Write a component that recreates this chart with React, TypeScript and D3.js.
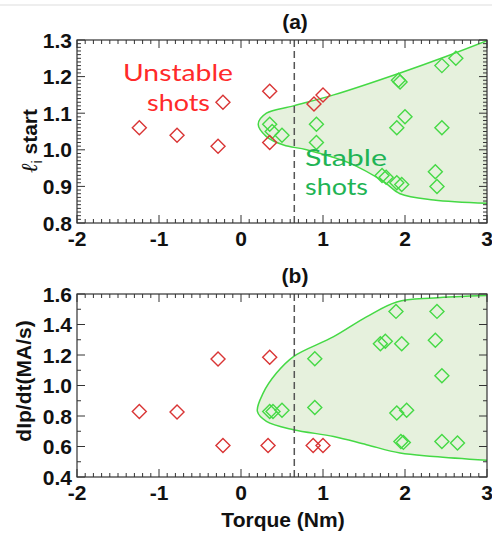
import React from "react";
import * as d3 from "d3";

// Panel (a): li start vs torque
const unstableA: [number, number][] = [
  [-1.24, 1.06], [-0.78, 1.04], [-0.28, 1.01], [-0.22, 1.13], [0.35, 1.16],
  [0.35, 1.02], [0.89, 1.125], [1.0, 1.15],
];
const stableA: [number, number][] = [
  [0.35, 1.07], [0.38, 1.05], [0.5, 1.04], [0.92, 1.07], [0.92, 1.02],
  [1.72, 0.93], [1.77, 0.925], [1.9, 0.91], [1.96, 0.905], [1.92, 1.19],
  [1.94, 1.185], [1.9, 1.06], [2.0, 1.09], [2.45, 1.23], [2.62, 1.25],
  [2.45, 1.06], [2.37, 0.94], [2.39, 0.9],
];
const boundaryA: [number, number][] = [
  [3.0, 1.298], [2.5, 1.255], [1.94, 1.21], [1.13, 1.15], [0.64, 1.12],
  [0.31, 1.1], [0.21, 1.07], [0.31, 1.036], [0.52, 1.013], [0.8, 1.0],
  [1.33, 0.963], [1.74, 0.913], [1.94, 0.88], [2.35, 0.863], [3.0, 0.854],
];

// Panel (b): dIp/dt vs torque
const unstableB: [number, number][] = [
  [-1.24, 0.83], [-0.78, 0.826], [-0.28, 1.174], [-0.22, 0.607], [0.35, 1.185],
  [0.33, 0.607], [0.88, 0.607], [1.0, 0.607],
];
const stableB: [number, number][] = [
  [0.35, 0.83], [0.39, 0.83], [0.5, 0.837], [0.9, 1.176], [0.9, 0.856],
  [1.7, 1.274], [1.76, 1.29], [1.89, 1.486], [1.96, 1.274], [1.9, 0.82],
  [2.02, 0.837], [1.95, 0.633], [1.98, 0.627], [2.39, 1.486], [2.37, 1.296],
  [2.45, 1.064], [2.45, 0.633], [2.64, 0.623],
];
const boundaryB: [number, number][] = [
  [3.0, 1.59], [2.35, 1.574], [1.9, 1.548], [1.53, 1.45], [1.13, 1.32],
  [0.64, 1.19], [0.43, 1.08], [0.27, 0.95], [0.2, 0.83], [0.31, 0.765],
  [0.64, 0.71], [1.13, 0.666], [1.53, 0.612], [1.94, 0.557], [2.35, 0.535],
  [3.0, 0.51],
];

const xTicks = [-2, -1, 0, 1, 2, 3];
const yTicksA = [0.8, 0.9, 1.0, 1.1, 1.2, 1.3];
const yTicksB = [0.4, 0.6, 0.8, 1.0, 1.2, 1.4, 1.6];
const threshold = 0.65;

const FONT = "'Liberation Sans', Arial, sans-serif";
const RED = "#d93535";
const GREEN = "#45d945";

type PanelProps = {
  id: string;
  top: number;
  bottom: number;
  yDomain: [number, number];
  yTicks: number[];
  yMinorStep: number;
  unstable: [number, number][];
  stable: [number, number][];
  boundary: [number, number][];
  title: string;
  yLabel: React.ReactNode;
  children?: React.ReactNode;
};

const L = 77;
const R = 487;

function Panel(p: PanelProps) {
  const x = d3.scaleLinear().domain([-2, 3]).range([L, R]);
  const y = d3.scaleLinear().domain(p.yDomain).range([p.bottom, p.top]);
  const line = d3
    .line<[number, number]>()
    .x((d) => x(d[0]))
    .y((d) => y(d[1]))
    .curve(d3.curveCatmullRom.alpha(0.5));
  const bPath = line(p.boundary) || "";
  const xMinor = d3.range(-2, 3.0001, 0.1);
  const nY = Math.round((p.yDomain[1] - p.yDomain[0]) / p.yMinorStep);
  const yMinor = d3.range(0, nY + 1).map((i) => p.yDomain[0] + i * p.yMinorStep);
  const diamond = (cx: number, cy: number) => {
    const r = 7;
    return `M${cx},${cy - r}L${cx + r},${cy}L${cx},${cy + r}L${cx - r},${cy}Z`;
  };
  const isMajorY = (v: number) => p.yTicks.some((t) => Math.abs(t - v) < 1e-6);
  const isMajorX = (v: number) => xTicks.some((t) => Math.abs(t - v) < 1e-6);
  return (
    <g>
      <defs>
        <clipPath id={`clip-${p.id}`}>
          <rect x={L} y={p.top} width={R - L} height={p.bottom - p.top} />
        </clipPath>
      </defs>
      <g clipPath={`url(#clip-${p.id})`}>
        <path d={bPath + "Z"} fill="#e6f1dd" stroke="none" />
        <path d={bPath} fill="none" stroke={GREEN} strokeWidth={1.5} />
      </g>
      <line
        x1={x(threshold)}
        x2={x(threshold)}
        y1={p.top}
        y2={p.bottom}
        stroke="#555"
        strokeWidth={1.5}
        strokeDasharray="7,4"
      />
      {p.stable.map((d, i) => (
        <path key={"s" + i} d={diamond(x(d[0]), y(d[1]))} fill="none" stroke={GREEN} strokeWidth={1.4} />
      ))}
      {p.unstable.map((d, i) => (
        <path key={"u" + i} d={diamond(x(d[0]), y(d[1]))} fill="none" stroke={RED} strokeWidth={1.4} />
      ))}
      <rect x={L} y={p.top} width={R - L} height={p.bottom - p.top} fill="none" stroke="#333" strokeWidth={1.2} />
      {xMinor.map((v, i) => {
        const len = isMajorX(v) ? 8 : 4;
        const xx = x(v);
        return (
          <g key={"xm" + i} stroke="#333" strokeWidth={1}>
            <line x1={xx} x2={xx} y1={p.bottom} y2={p.bottom - len} />
            <line x1={xx} x2={xx} y1={p.top} y2={p.top + len} />
          </g>
        );
      })}
      {yMinor.map((v, i) => {
        const len = isMajorY(v) ? 8 : 4;
        const yy = y(v);
        return (
          <g key={"ym" + i} stroke="#333" strokeWidth={1}>
            <line x1={L} x2={L + len} y1={yy} y2={yy} />
            <line x1={R} x2={R - len} y1={yy} y2={yy} />
          </g>
        );
      })}
      {xTicks.map((t) => (
        <text
          key={"xt" + t}
          x={x(t)}
          y={p.bottom + 23}
          textAnchor="middle"
          fontFamily={FONT}
          fontWeight="bold"
          fontSize={21}
          fill="#111"
        >
          {t}
        </text>
      ))}
      {p.yTicks.map((t) => (
        <text
          key={"yt" + t}
          x={72}
          y={y(t) + 7.5}
          textAnchor="end"
          fontFamily={FONT}
          fontWeight="bold"
          fontSize={21}
          fill="#111"
        >
          {t.toFixed(1)}
        </text>
      ))}
      <text x={295} y={p.top - 11} textAnchor="middle" fontFamily={FONT} fontWeight="bold" fontSize={21} fill="#111">
        {p.title}
      </text>
      {p.yLabel}
      {p.children}
    </g>
  );
}

export default function App() {
  return (
    <svg
      width={492}
      height={534}
      style={{ position: "absolute", left: 0, top: 0, background: "#fff" }}
    >
      <rect x={0} y={0} width={492} height={534} fill="#fff" />
      <line x1={0} x2={492} y1={5} y2={5} stroke="#e8e8e8" strokeWidth={1.5} />
      <Panel
        id="a"
        top={40}
        bottom={223}
        yDomain={[0.8, 1.3]}
        yTicks={yTicksA}
        yMinorStep={0.01}
        unstable={unstableA}
        stable={stableA}
        boundary={boundaryA}
        title="(a)"
        yLabel={
          <text
            transform="translate(37,141) rotate(-90)"
            textAnchor="middle"
            fontFamily={FONT}
            fontSize={21}
            fill="#111"
          >
            <tspan fontFamily="'DejaVu Serif', serif" fontStyle="italic" fontSize={23}>ℓ</tspan>
            <tspan fontSize={14} dy={5} fontFamily={FONT}>i</tspan>
            <tspan dy={-5} fontWeight="bold"> start</tspan>
          </text>
        }
      >
        <g fontFamily="Lato, sans-serif" fontSize={24}>
          <text x={123} y={81} textLength={110} lengthAdjust="spacingAndGlyphs" fill="#ff2a2a">Unstable</text>
          <text x={147} y={111} textLength={63} lengthAdjust="spacingAndGlyphs" fill="#ff2a2a">shots</text>
          <text x={305} y={166} textLength={82} lengthAdjust="spacingAndGlyphs" fill="#1fb455">Stable</text>
          <text x={305} y={195} textLength={63} lengthAdjust="spacingAndGlyphs" fill="#1fb455">shots</text>
        </g>
      </Panel>
      <Panel
        id="b"
        top={294}
        bottom={477}
        yDomain={[0.4, 1.6]}
        yTicks={yTicksB}
        yMinorStep={0.1}
        unstable={unstableB}
        stable={stableB}
        boundary={boundaryB}
        title="(b)"
        yLabel={
          <text
            transform="translate(31,381) rotate(-90)"
            textAnchor="middle"
            fontFamily={FONT}
            fontWeight="bold"
            fontSize={21}
            fill="#111"
          >
            dIp/dt(MA/s)
          </text>
        }
      />
      <text x={283} y={527} textAnchor="middle" fontFamily={FONT} fontWeight="bold" fontSize={21} fill="#111">
        Torque (Nm)
      </text>
    </svg>
  );
}
